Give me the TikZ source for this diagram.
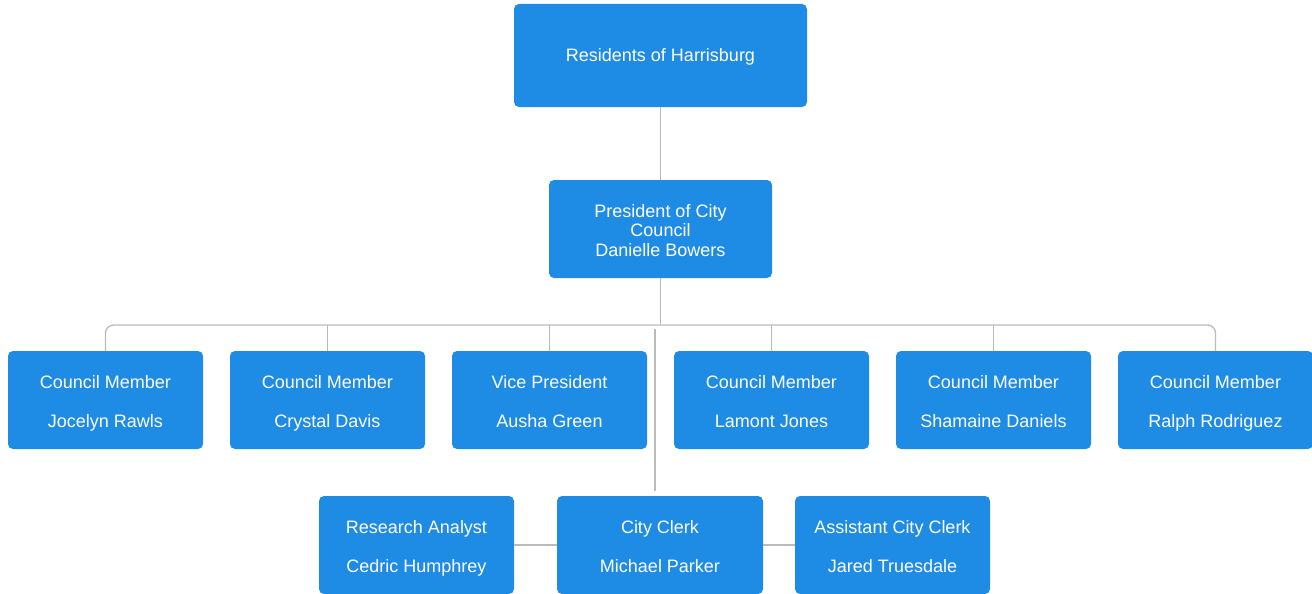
\documentclass[tikz,border=0pt]{standalone}
\usepackage{fontspec}
\setmainfont{Liberation Sans}
\definecolor{boxblue}{HTML}{1E8BE4}
\definecolor{linegray}{HTML}{BBBBBB}
\begin{document}
\begin{tikzpicture}[x=1pt,y=-1pt,
  box/.style={draw=none,fill=boxblue,rounded corners=5pt,text=white,inner sep=0pt,
    align=center,font=\fontsize{18}{39}\selectfont,minimum width=195pt,minimum height=98pt,
    text height=54pt,text depth=0pt},
  conn/.style={draw=linegray,line width=1.3pt}]
\useasboundingbox (0,0) rectangle (1312,594);
\node[box,minimum width=293pt,minimum height=103pt,text height=13pt] (res) at (660.5,55.5) {Residents of Harrisburg};
\node[box,minimum width=223pt,minimum height=98pt,font=\fontsize{18}{19.5}\selectfont] (pres) at (660.5,229) {President of City\\Council\\Danielle Bowers};
\node[box] (m1) at (105.5,400) {Council Member\\Jocelyn Rawls};
\node[box] (m2) at (327.5,400) {Council Member\\Crystal Davis};
\node[box] (m3) at (549.5,400) {Vice President\\Ausha Green};
\node[box] (m4) at (771.5,400) {Council Member\\Lamont Jones};
\node[box] (m5) at (993.5,400) {Council Member\\Shamaine Daniels};
\node[box] (m6) at (1215.5,400) {Council Member\\Ralph Rodriguez};
\node[box] (ra) at (416.5,545) {Research Analyst\\Cedric Humphrey};
\node[box,minimum width=206pt] (clerk) at (660,545) {City Clerk\\Michael Parker};
\node[box] (acc) at (892.5,545) {Assistant City Clerk\\Jared Truesdale};
\coordinate (bus) at (660.5,325);
\coordinate (vtop) at (655,329);
\draw[conn] (res.south) -- (pres.north);
\draw[conn] (pres.south) -- (bus);
\draw[conn,rounded corners=8pt] (m1.north) -- (m1.north |- bus) -- (m6.north |- bus) -- (m6.north);
\foreach \m in {m2,m3,m4,m5} \draw[conn] (\m.north) -- (\m.north |- bus);
\draw[conn,shorten >=5pt] (vtop) -- (vtop |- clerk.north);
\draw[conn] (ra.east) -- (clerk.west);
\draw[conn] (clerk.east) -- (acc.west);
\end{tikzpicture}
\end{document}
